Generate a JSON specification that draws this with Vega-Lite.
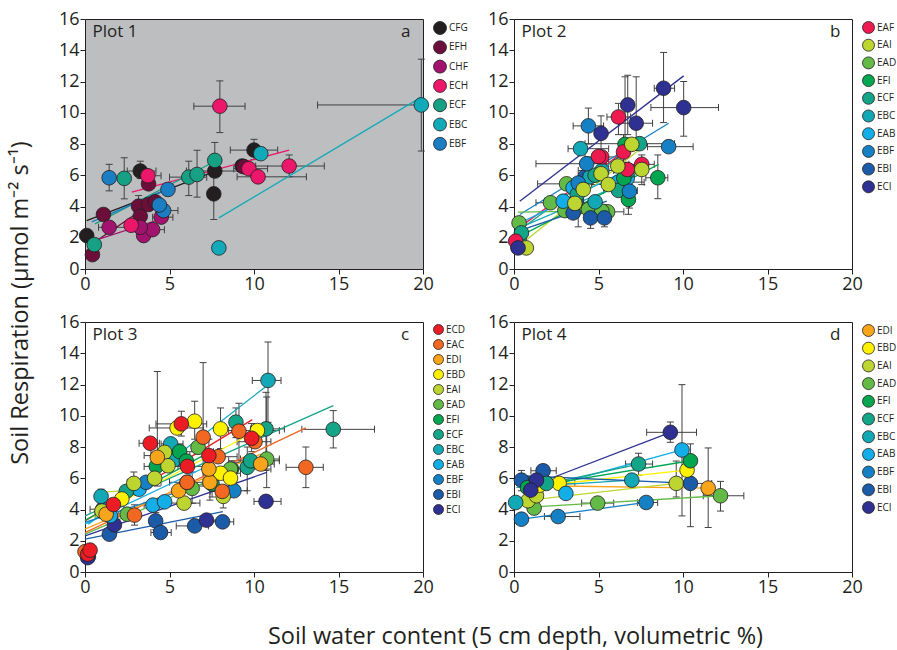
{
"$schema": "https://vega.github.io/schema/vega-lite/v6.json",
"padding": {"left": 9, "top": 9, "right": 0, "bottom": 5},
"config": {
  "font": "Open Sans",
  "view": {"stroke": "#231f20", "strokeWidth": 1},
  "axis": {"grid": false, "domain": false, "tickColor": "#231f20", "tickSize": 5, "labelFontSize": 18, "labelColor": "#231f20", "labelFont": "Open Sans", "labelPadding": 1, "labelFlush": false, "labelOverlap": false},
  "legend": {"orient": "right", "offset": 8, "symbolType": "circle", "symbolStrokeColor": "#231f20", "symbolStrokeWidth": 0.8, "symbolOpacity": 1, "labelFontSize": 10, "labelColor": "#231f20", "labelFont": "Open Sans", "labelOffset": 2, "padding": 2},
  "tick": {"thickness": 1}
},
"title": {"text": "Soil water content (5 cm depth, volumetric %)", "orient": "bottom", "anchor": "middle", "fontSize": 23.5, "fontWeight": "normal", "color": "#231f20", "font": "Open Sans", "offset": 28, "dx": 61},
"resolve": {"scale": {"color": "independent", "stroke": "independent"}, "legend": {"color": "independent"}},
"vconcat": [{
  "title": {"text": "Soil Respiration (µmol m⁻² s⁻¹)", "orient": "left", "anchor": "middle", "fontSize": 23.5, "fontWeight": "normal", "color": "#231f20", "font": "Open Sans", "offset": 25},
  "columns": 2,
  "spacing": {"row": 18, "column": 14},
  "resolve": {"scale": {"color": "independent", "stroke": "independent"}, "legend": {"color": "independent"}},
  "concat": [
   {"width": 338, "height": 250, "view": {"fill": "#bcbec0", "stroke": "#231f20"},
    "layer": [
     {"data": {"name": "p1"}, "transform": [{"filter": "isValid(datum.xl)"}], "mark": {"type": "rule", "color": "#414042", "strokeWidth": 1},
      "encoding": {"x": {"field": "xl", "type": "quantitative", "title": null, "scale": {"domain": [0, 20], "nice": false}, "axis": {"title": null, "values": [0, 5, 10, 15, 20], "labelOverlap": false}}, "x2": {"field": "xh"}, "y": {"field": "y", "type": "quantitative", "title": null, "scale": {"domain": [0, 16], "nice": false}, "axis": {"title": null, "values": [0, 2, 4, 6, 8, 10, 12, 14, 16], "tickCount": 10, "labelOverlap": false}}}},
     {"data": {"name": "p1"}, "transform": [{"filter": "isValid(datum.yl)"}], "mark": {"type": "rule", "color": "#414042", "strokeWidth": 1},
      "encoding": {"x": {"field": "x", "type": "quantitative", "title": null, "scale": {"domain": [0, 20], "nice": false}, "axis": {"title": null, "values": [0, 5, 10, 15, 20], "labelOverlap": false}}, "y": {"field": "yl", "type": "quantitative", "title": null, "scale": {"domain": [0, 16], "nice": false}, "axis": {"title": null, "values": [0, 2, 4, 6, 8, 10, 12, 14, 16], "tickCount": 10, "labelOverlap": false}}, "y2": {"field": "yh"}}},
     {"data": {"name": "p1"}, "transform": [{"filter": "isValid(datum.xl)"}, {"fold": ["xl", "xh"], "as": ["k", "v"]}], "mark": {"type": "tick", "orient": "vertical", "size": 7, "thickness": 1, "color": "#414042", "opacity": 1},
      "encoding": {"x": {"field": "v", "type": "quantitative", "title": null, "scale": {"domain": [0, 20], "nice": false}, "axis": {"title": null, "values": [0, 5, 10, 15, 20], "labelOverlap": false}}, "y": {"field": "y", "type": "quantitative", "title": null, "scale": {"domain": [0, 16], "nice": false}, "axis": {"title": null, "values": [0, 2, 4, 6, 8, 10, 12, 14, 16], "tickCount": 10, "labelOverlap": false}}}},
     {"data": {"name": "p1"}, "transform": [{"filter": "isValid(datum.yl)"}, {"fold": ["yl", "yh"], "as": ["k", "v"]}], "mark": {"type": "tick", "orient": "horizontal", "size": 7, "thickness": 1, "color": "#414042", "opacity": 1},
      "encoding": {"x": {"field": "x", "type": "quantitative", "title": null, "scale": {"domain": [0, 20], "nice": false}, "axis": {"title": null, "values": [0, 5, 10, 15, 20], "labelOverlap": false}}, "y": {"field": "v", "type": "quantitative", "title": null, "scale": {"domain": [0, 16], "nice": false}, "axis": {"title": null, "values": [0, 2, 4, 6, 8, 10, 12, 14, 16], "tickCount": 10, "labelOverlap": false}}}},
     {"data": {"name": "l1"}, "mark": {"type": "rule", "strokeWidth": 1.3},
      "encoding": {"x": {"field": "x1", "type": "quantitative", "title": null, "scale": {"domain": [0, 20], "nice": false}, "axis": {"title": null, "values": [0, 5, 10, 15, 20], "labelOverlap": false}}, "y": {"field": "y1", "type": "quantitative", "title": null, "scale": {"domain": [0, 16], "nice": false}, "axis": {"title": null, "values": [0, 2, 4, 6, 8, 10, 12, 14, 16], "tickCount": 10, "labelOverlap": false}}, "x2": {"field": "x2"}, "y2": {"field": "y2"},
       "stroke": {"field": "s", "type": "nominal", "legend": null, "scale": {"domain": ["EBF","EBC","ECF","ECH","CHF","EFH","CFG"], "range": ["#1b7ec2","#12aab8","#16a185","#ec176b","#a1136d","#6b0f3a","#231f20"]}}}},
     {"data": {"name": "p1"}, "mark": {"type": "circle", "size": 215, "opacity": 1, "stroke": "#231f20", "strokeWidth": 0.8},
      "encoding": {"x": {"field": "x", "type": "quantitative", "title": null, "scale": {"domain": [0, 20], "nice": false}, "axis": {"title": null, "values": [0, 5, 10, 15, 20], "labelOverlap": false}}, "y": {"field": "y", "type": "quantitative", "title": null, "scale": {"domain": [0, 16], "nice": false}, "axis": {"title": null, "values": [0, 2, 4, 6, 8, 10, 12, 14, 16], "tickCount": 10, "labelOverlap": false}},
       "color": {"field": "s", "type": "nominal", "scale": {"domain": ["CFG","EFH","CHF","ECH","ECF","EBC","EBF"], "range": ["#231f20","#6b0f3a","#a1136d","#ec176b","#16a185","#12aab8","#1b7ec2"]}, "legend": {"title": null, "symbolSize": 169, "rowPadding": 1.3}}}},
     {"data": {"values": [{"t": "Plot 1", "x": 0.45, "y": 14.85}, {"t": "a", "x": 18.7, "y": 14.85}]}, "mark": {"type": "text", "fontSize": 17, "color": "#231f20", "baseline": "alphabetic", "align": "left"},
      "encoding": {"x": {"field": "x", "type": "quantitative", "title": null, "scale": {"domain": [0, 20], "nice": false}}, "y": {"field": "y", "type": "quantitative", "title": null, "scale": {"domain": [0, 16], "nice": false}}, "text": {"field": "t"}}}
    ]},
   {"width": 338, "height": 250,
    "layer": [
     {"data": {"name": "p2"}, "transform": [{"filter": "isValid(datum.xl)"}], "mark": {"type": "rule", "color": "#414042", "strokeWidth": 1},
      "encoding": {"x": {"field": "xl", "type": "quantitative", "title": null, "scale": {"domain": [0, 20], "nice": false}, "axis": {"title": null, "values": [0, 5, 10, 15, 20], "labelOverlap": false}}, "x2": {"field": "xh"}, "y": {"field": "y", "type": "quantitative", "title": null, "scale": {"domain": [0, 16], "nice": false}, "axis": {"title": null, "values": [0, 2, 4, 6, 8, 10, 12, 14, 16], "tickCount": 10, "labelOverlap": false}}}},
     {"data": {"name": "p2"}, "transform": [{"filter": "isValid(datum.yl)"}], "mark": {"type": "rule", "color": "#414042", "strokeWidth": 1},
      "encoding": {"x": {"field": "x", "type": "quantitative", "title": null, "scale": {"domain": [0, 20], "nice": false}, "axis": {"title": null, "values": [0, 5, 10, 15, 20], "labelOverlap": false}}, "y": {"field": "yl", "type": "quantitative", "title": null, "scale": {"domain": [0, 16], "nice": false}, "axis": {"title": null, "values": [0, 2, 4, 6, 8, 10, 12, 14, 16], "tickCount": 10, "labelOverlap": false}}, "y2": {"field": "yh"}}},
     {"data": {"name": "p2"}, "transform": [{"filter": "isValid(datum.xl)"}, {"fold": ["xl", "xh"], "as": ["k", "v"]}], "mark": {"type": "tick", "orient": "vertical", "size": 7, "thickness": 1, "color": "#414042", "opacity": 1},
      "encoding": {"x": {"field": "v", "type": "quantitative", "title": null, "scale": {"domain": [0, 20], "nice": false}, "axis": {"title": null, "values": [0, 5, 10, 15, 20], "labelOverlap": false}}, "y": {"field": "y", "type": "quantitative", "title": null, "scale": {"domain": [0, 16], "nice": false}, "axis": {"title": null, "values": [0, 2, 4, 6, 8, 10, 12, 14, 16], "tickCount": 10, "labelOverlap": false}}}},
     {"data": {"name": "p2"}, "transform": [{"filter": "isValid(datum.yl)"}, {"fold": ["yl", "yh"], "as": ["k", "v"]}], "mark": {"type": "tick", "orient": "horizontal", "size": 7, "thickness": 1, "color": "#414042", "opacity": 1},
      "encoding": {"x": {"field": "x", "type": "quantitative", "title": null, "scale": {"domain": [0, 20], "nice": false}, "axis": {"title": null, "values": [0, 5, 10, 15, 20], "labelOverlap": false}}, "y": {"field": "v", "type": "quantitative", "title": null, "scale": {"domain": [0, 16], "nice": false}, "axis": {"title": null, "values": [0, 2, 4, 6, 8, 10, 12, 14, 16], "tickCount": 10, "labelOverlap": false}}}},
     {"data": {"name": "l2"}, "mark": {"type": "rule", "strokeWidth": 1.3},
      "encoding": {"x": {"field": "x1", "type": "quantitative", "title": null, "scale": {"domain": [0, 20], "nice": false}, "axis": {"title": null, "values": [0, 5, 10, 15, 20], "labelOverlap": false}}, "y": {"field": "y1", "type": "quantitative", "title": null, "scale": {"domain": [0, 16], "nice": false}, "axis": {"title": null, "values": [0, 2, 4, 6, 8, 10, 12, 14, 16], "tickCount": 10, "labelOverlap": false}}, "x2": {"field": "x2"}, "y2": {"field": "y2"},
       "stroke": {"field": "s", "type": "nominal", "legend": null, "scale": {"domain": ["ECI","EBI","EBF","EAB","EBC","ECF","EFI","EAD","EAI","EAF"], "range": ["#2e3192","#1b5ba8","#1580c4","#13aee8","#13a8b6","#14a487","#03a650","#63ba47","#bdd531","#ed1a4f"]}}}},
     {"data": {"name": "p2"}, "mark": {"type": "circle", "size": 215, "opacity": 1, "stroke": "#231f20", "strokeWidth": 0.8},
      "encoding": {"x": {"field": "x", "type": "quantitative", "title": null, "scale": {"domain": [0, 20], "nice": false}, "axis": {"title": null, "values": [0, 5, 10, 15, 20], "labelOverlap": false}}, "y": {"field": "y", "type": "quantitative", "title": null, "scale": {"domain": [0, 16], "nice": false}, "axis": {"title": null, "values": [0, 2, 4, 6, 8, 10, 12, 14, 16], "tickCount": 10, "labelOverlap": false}},
       "color": {"field": "s", "type": "nominal", "scale": {"domain": ["EAF","EAI","EAD","EFI","ECF","EBC","EAB","EBF","EBI","ECI"], "range": ["#ed1a4f","#bdd531","#63ba47","#03a650","#14a487","#13a8b6","#13aee8","#1580c4","#1b5ba8","#2e3192"]}, "legend": {"title": null, "symbolSize": 144, "rowPadding": 0.7}}}},
     {"data": {"values": [{"t": "Plot 2", "x": 0.45, "y": 14.85}, {"t": "b", "x": 18.7, "y": 14.85}]}, "mark": {"type": "text", "fontSize": 17, "color": "#231f20", "baseline": "alphabetic", "align": "left"},
      "encoding": {"x": {"field": "x", "type": "quantitative", "title": null, "scale": {"domain": [0, 20], "nice": false}}, "y": {"field": "y", "type": "quantitative", "title": null, "scale": {"domain": [0, 16], "nice": false}}, "text": {"field": "t"}}}
    ]},
   {"width": 338, "height": 250,
    "layer": [
     {"data": {"name": "p3"}, "transform": [{"filter": "isValid(datum.xl)"}], "mark": {"type": "rule", "color": "#414042", "strokeWidth": 1},
      "encoding": {"x": {"field": "xl", "type": "quantitative", "title": null, "scale": {"domain": [0, 20], "nice": false}, "axis": {"title": null, "values": [0, 5, 10, 15, 20], "labelOverlap": false}}, "x2": {"field": "xh"}, "y": {"field": "y", "type": "quantitative", "title": null, "scale": {"domain": [0, 16], "nice": false}, "axis": {"title": null, "values": [0, 2, 4, 6, 8, 10, 12, 14, 16], "tickCount": 10, "labelOverlap": false}}}},
     {"data": {"name": "p3"}, "transform": [{"filter": "isValid(datum.yl)"}], "mark": {"type": "rule", "color": "#414042", "strokeWidth": 1},
      "encoding": {"x": {"field": "x", "type": "quantitative", "title": null, "scale": {"domain": [0, 20], "nice": false}, "axis": {"title": null, "values": [0, 5, 10, 15, 20], "labelOverlap": false}}, "y": {"field": "yl", "type": "quantitative", "title": null, "scale": {"domain": [0, 16], "nice": false}, "axis": {"title": null, "values": [0, 2, 4, 6, 8, 10, 12, 14, 16], "tickCount": 10, "labelOverlap": false}}, "y2": {"field": "yh"}}},
     {"data": {"name": "p3"}, "transform": [{"filter": "isValid(datum.xl)"}, {"fold": ["xl", "xh"], "as": ["k", "v"]}], "mark": {"type": "tick", "orient": "vertical", "size": 7, "thickness": 1, "color": "#414042", "opacity": 1},
      "encoding": {"x": {"field": "v", "type": "quantitative", "title": null, "scale": {"domain": [0, 20], "nice": false}, "axis": {"title": null, "values": [0, 5, 10, 15, 20], "labelOverlap": false}}, "y": {"field": "y", "type": "quantitative", "title": null, "scale": {"domain": [0, 16], "nice": false}, "axis": {"title": null, "values": [0, 2, 4, 6, 8, 10, 12, 14, 16], "tickCount": 10, "labelOverlap": false}}}},
     {"data": {"name": "p3"}, "transform": [{"filter": "isValid(datum.yl)"}, {"fold": ["yl", "yh"], "as": ["k", "v"]}], "mark": {"type": "tick", "orient": "horizontal", "size": 7, "thickness": 1, "color": "#414042", "opacity": 1},
      "encoding": {"x": {"field": "x", "type": "quantitative", "title": null, "scale": {"domain": [0, 20], "nice": false}, "axis": {"title": null, "values": [0, 5, 10, 15, 20], "labelOverlap": false}}, "y": {"field": "v", "type": "quantitative", "title": null, "scale": {"domain": [0, 16], "nice": false}, "axis": {"title": null, "values": [0, 2, 4, 6, 8, 10, 12, 14, 16], "tickCount": 10, "labelOverlap": false}}}},
     {"data": {"name": "l3"}, "mark": {"type": "rule", "strokeWidth": 1.3},
      "encoding": {"x": {"field": "x1", "type": "quantitative", "title": null, "scale": {"domain": [0, 20], "nice": false}, "axis": {"title": null, "values": [0, 5, 10, 15, 20], "labelOverlap": false}}, "y": {"field": "y1", "type": "quantitative", "title": null, "scale": {"domain": [0, 16], "nice": false}, "axis": {"title": null, "values": [0, 2, 4, 6, 8, 10, 12, 14, 16], "tickCount": 10, "labelOverlap": false}}, "x2": {"field": "x2"}, "y2": {"field": "y2"},
       "stroke": {"field": "s", "type": "nominal", "legend": null, "scale": {"domain": ["ECI","EBI","EBF","EAB","EBC","ECF","EFI","EAD","EAI","EBD","EDI","EAC","ECD"], "range": ["#2e3192","#1b5ba8","#1580c4","#13aee8","#13a8b6","#14a487","#03a650","#63ba47","#bdd531","#fff200","#f9a51b","#f26722","#ec1c24"]}}}},
     {"data": {"name": "p3"}, "mark": {"type": "circle", "size": 215, "opacity": 1, "stroke": "#231f20", "strokeWidth": 0.8},
      "encoding": {"x": {"field": "x", "type": "quantitative", "title": null, "scale": {"domain": [0, 20], "nice": false}, "axis": {"title": null, "values": [0, 5, 10, 15, 20], "labelOverlap": false}}, "y": {"field": "y", "type": "quantitative", "title": null, "scale": {"domain": [0, 16], "nice": false}, "axis": {"title": null, "values": [0, 2, 4, 6, 8, 10, 12, 14, 16], "tickCount": 10, "labelOverlap": false}},
       "color": {"field": "s", "type": "nominal", "scale": {"domain": ["ECD","EAC","EDI","EBD","EAI","EAD","EFI","ECF","EBC","EAB","EBF","EBI","ECI"], "range": ["#ec1c24","#f26722","#f9a51b","#fff200","#bdd531","#63ba47","#03a650","#14a487","#13a8b6","#13aee8","#1580c4","#1b5ba8","#2e3192"]}, "legend": {"title": null, "symbolSize": 100, "rowPadding": 0}}}},
     {"data": {"values": [{"t": "Plot 3", "x": 0.45, "y": 14.85}, {"t": "c", "x": 18.7, "y": 14.85}]}, "mark": {"type": "text", "fontSize": 17, "color": "#231f20", "baseline": "alphabetic", "align": "left"},
      "encoding": {"x": {"field": "x", "type": "quantitative", "title": null, "scale": {"domain": [0, 20], "nice": false}}, "y": {"field": "y", "type": "quantitative", "title": null, "scale": {"domain": [0, 16], "nice": false}}, "text": {"field": "t"}}}
    ]},
   {"width": 338, "height": 250,
    "layer": [
     {"data": {"name": "p4"}, "transform": [{"filter": "isValid(datum.xl)"}], "mark": {"type": "rule", "color": "#414042", "strokeWidth": 1},
      "encoding": {"x": {"field": "xl", "type": "quantitative", "title": null, "scale": {"domain": [0, 20], "nice": false}, "axis": {"title": null, "values": [0, 5, 10, 15, 20], "labelOverlap": false}}, "x2": {"field": "xh"}, "y": {"field": "y", "type": "quantitative", "title": null, "scale": {"domain": [0, 16], "nice": false}, "axis": {"title": null, "values": [0, 2, 4, 6, 8, 10, 12, 14, 16], "tickCount": 10, "labelOverlap": false}}}},
     {"data": {"name": "p4"}, "transform": [{"filter": "isValid(datum.yl)"}], "mark": {"type": "rule", "color": "#414042", "strokeWidth": 1},
      "encoding": {"x": {"field": "x", "type": "quantitative", "title": null, "scale": {"domain": [0, 20], "nice": false}, "axis": {"title": null, "values": [0, 5, 10, 15, 20], "labelOverlap": false}}, "y": {"field": "yl", "type": "quantitative", "title": null, "scale": {"domain": [0, 16], "nice": false}, "axis": {"title": null, "values": [0, 2, 4, 6, 8, 10, 12, 14, 16], "tickCount": 10, "labelOverlap": false}}, "y2": {"field": "yh"}}},
     {"data": {"name": "p4"}, "transform": [{"filter": "isValid(datum.xl)"}, {"fold": ["xl", "xh"], "as": ["k", "v"]}], "mark": {"type": "tick", "orient": "vertical", "size": 7, "thickness": 1, "color": "#414042", "opacity": 1},
      "encoding": {"x": {"field": "v", "type": "quantitative", "title": null, "scale": {"domain": [0, 20], "nice": false}, "axis": {"title": null, "values": [0, 5, 10, 15, 20], "labelOverlap": false}}, "y": {"field": "y", "type": "quantitative", "title": null, "scale": {"domain": [0, 16], "nice": false}, "axis": {"title": null, "values": [0, 2, 4, 6, 8, 10, 12, 14, 16], "tickCount": 10, "labelOverlap": false}}}},
     {"data": {"name": "p4"}, "transform": [{"filter": "isValid(datum.yl)"}, {"fold": ["yl", "yh"], "as": ["k", "v"]}], "mark": {"type": "tick", "orient": "horizontal", "size": 7, "thickness": 1, "color": "#414042", "opacity": 1},
      "encoding": {"x": {"field": "x", "type": "quantitative", "title": null, "scale": {"domain": [0, 20], "nice": false}, "axis": {"title": null, "values": [0, 5, 10, 15, 20], "labelOverlap": false}}, "y": {"field": "v", "type": "quantitative", "title": null, "scale": {"domain": [0, 16], "nice": false}, "axis": {"title": null, "values": [0, 2, 4, 6, 8, 10, 12, 14, 16], "tickCount": 10, "labelOverlap": false}}}},
     {"data": {"name": "l4"}, "mark": {"type": "rule", "strokeWidth": 1.3},
      "encoding": {"x": {"field": "x1", "type": "quantitative", "title": null, "scale": {"domain": [0, 20], "nice": false}, "axis": {"title": null, "values": [0, 5, 10, 15, 20], "labelOverlap": false}}, "y": {"field": "y1", "type": "quantitative", "title": null, "scale": {"domain": [0, 16], "nice": false}, "axis": {"title": null, "values": [0, 2, 4, 6, 8, 10, 12, 14, 16], "tickCount": 10, "labelOverlap": false}}, "x2": {"field": "x2"}, "y2": {"field": "y2"},
       "stroke": {"field": "s", "type": "nominal", "legend": null, "scale": {"domain": ["ECI","EBI","EBF","EAB","EBC","ECF","EFI","EAD","EAI","EBD","EDI"], "range": ["#2e3192","#1b5ba8","#1580c4","#13aee8","#13a8b6","#14a487","#03a650","#63ba47","#bdd531","#fff200","#f9a51b"]}}}},
     {"data": {"name": "p4"}, "mark": {"type": "circle", "size": 215, "opacity": 1, "stroke": "#231f20", "strokeWidth": 0.8},
      "encoding": {"x": {"field": "x", "type": "quantitative", "title": null, "scale": {"domain": [0, 20], "nice": false}, "axis": {"title": null, "values": [0, 5, 10, 15, 20], "labelOverlap": false}}, "y": {"field": "y", "type": "quantitative", "title": null, "scale": {"domain": [0, 16], "nice": false}, "axis": {"title": null, "values": [0, 2, 4, 6, 8, 10, 12, 14, 16], "tickCount": 10, "labelOverlap": false}},
       "color": {"field": "s", "type": "nominal", "scale": {"domain": ["EDI","EBD","EAI","EAD","EFI","ECF","EBC","EAB","EBF","EBI","ECI"], "range": ["#f9a51b","#fff200","#bdd531","#63ba47","#03a650","#14a487","#13a8b6","#13aee8","#1580c4","#1b5ba8","#2e3192"]}, "legend": {"title": null, "symbolSize": 144, "rowPadding": 0.7}}}},
     {"data": {"values": [{"t": "Plot 4", "x": 0.45, "y": 14.85}, {"t": "d", "x": 18.7, "y": 14.85}]}, "mark": {"type": "text", "fontSize": 17, "color": "#231f20", "baseline": "alphabetic", "align": "left"},
      "encoding": {"x": {"field": "x", "type": "quantitative", "title": null, "scale": {"domain": [0, 20], "nice": false}}, "y": {"field": "y", "type": "quantitative", "title": null, "scale": {"domain": [0, 16], "nice": false}}, "text": {"field": "t"}}}
    ]}
  ]
}],
"datasets": {
 "p1": [
  {"s":"CFG","x":0.1,"y":2.14},
  {"s":"CFG","x":3.27,"y":6.27,"xl":2.5,"xh":4.2,"yl":5.8,"yh":6.9},
  {"s":"CFG","x":7.62,"y":4.81,"yl":3.17,"yh":6.48},
  {"s":"CFG","x":10.0,"y":7.61,"xl":8.6,"xh":11.4,"yl":7.0,"yh":8.3},
  {"s":"CFG","x":9.3,"y":6.59},
  {"s":"CFG","x":7.68,"y":6.27,"xl":6.0,"xh":9.4},
  {"s":"EFH","x":0.44,"y":0.92},
  {"s":"EFH","x":1.09,"y":3.49},
  {"s":"EFH","x":3.17,"y":4.02,"yl":3.3,"yh":4.7},
  {"s":"EFH","x":3.27,"y":3.38},
  {"s":"EFH","x":3.76,"y":4.13},
  {"s":"EFH","x":4.16,"y":4.3},
  {"s":"EFH","x":3.76,"y":5.45},
  {"s":"EFH","x":9.4,"y":6.55},
  {"s":"CHF","x":1.43,"y":2.67,"xl":0.8,"xh":3.3},
  {"s":"CHF","x":3.47,"y":2.14},
  {"s":"CHF","x":4.0,"y":2.52,"xl":3.3,"xh":4.7},
  {"s":"CHF","x":4.51,"y":3.32,"xl":4.0,"xh":5.2},
  {"s":"CHF","x":3.27,"y":2.67},
  {"s":"ECH","x":7.98,"y":10.42,"xl":6.44,"xh":9.47,"yl":8.73,"yh":12.04},
  {"s":"ECH","x":3.72,"y":5.97,"xl":3.2,"xh":4.5},
  {"s":"ECH","x":2.73,"y":2.8},
  {"s":"ECH","x":9.7,"y":6.42,"xl":8.8,"xh":10.8},
  {"s":"ECH","x":10.24,"y":5.9,"xl":9.0,"xh":13.1},
  {"s":"ECH","x":12.08,"y":6.59,"xl":10.1,"xh":14.16,"yl":5.9,"yh":7.3},
  {"s":"ECF","x":0.55,"y":1.56},
  {"s":"ECF","x":2.32,"y":5.8,"yl":4.49,"yh":7.12},
  {"s":"ECF","x":6.14,"y":5.88,"xl":5.0,"xh":7.2,"yl":4.7,"yh":6.9},
  {"s":"ECF","x":6.63,"y":6.05,"yl":4.6,"yh":7.6},
  {"s":"ECF","x":7.68,"y":6.95,"yl":6.0,"yh":8.1},
  {"s":"EBC","x":7.92,"y":1.35,"yl":1.1,"yh":1.6},
  {"s":"EBC","x":19.9,"y":10.5,"xl":13.76,"xh":20,"yl":7.55,"yh":13.43},
  {"s":"EBC","x":10.4,"y":7.38},
  {"s":"EBF","x":1.43,"y":5.84,"yl":5.0,"yh":6.7},
  {"s":"EBF","x":4.91,"y":5.09},
  {"s":"EBF","x":4.65,"y":3.74,"xl":4.2,"xh":5.5},
  {"s":"EBF","x":4.4,"y":4.1}
 ],
 "l1": [
  {"s":"CFG","x1":0.1,"y1":3.1,"x2":7.8,"y2":6.3},
  {"s":"EFH","x1":0.4,"y1":1.6,"x2":4.2,"y2":4.4},
  {"s":"CHF","x1":0.5,"y1":1.8,"x2":4.5,"y2":3.2},
  {"s":"ECH","x1":2.77,"y1":4.92,"x2":12.08,"y2":7.61},
  {"s":"ECF","x1":0.59,"y1":2.89,"x2":7.72,"y2":6.91},
  {"s":"EBC","x1":7.92,"y1":3.27,"x2":19.9,"y2":11.0},
  {"s":"EBF","x1":0.4,"y1":3.02,"x2":4.85,"y2":5.09}
 ],
 "p2": [
  {"s":"EAD","x":3.11,"y":5.45,"xl":1.4,"xh":4.6},
  {"s":"EAD","x":2.16,"y":4.24,"xl":1.3,"xh":3.0},
  {"s":"EAD","x":3.01,"y":3.74},
  {"s":"EAD","x":3.8,"y":3.96,"yl":2.7,"yh":5.0},
  {"s":"EAD","x":4.4,"y":3.81},
  {"s":"EAD","x":5.54,"y":3.66,"xl":4.6,"xh":6.5},
  {"s":"EAD","x":0.3,"y":2.95},
  {"s":"EAD","x":5.2,"y":3.7},
  {"s":"EBI","x":4.53,"y":3.27,"yl":2.6,"yh":3.9},
  {"s":"EBI","x":5.35,"y":3.27,"yl":2.7,"yh":4.1},
  {"s":"EBI","x":3.5,"y":3.59},
  {"s":"EBI","x":0.24,"y":1.4},
  {"s":"EBI","x":4.2,"y":5.9},
  {"s":"EBI","x":3.7,"y":4.4},
  {"s":"EAB","x":2.91,"y":4.34,"xl":1.8,"xh":4.0},
  {"s":"EAB","x":6.18,"y":5.56,"xl":5.2,"xh":7.7},
  {"s":"EAB","x":6.7,"y":5.8},
  {"s":"EAB","x":3.5,"y":5.2},
  {"s":"EBC","x":3.94,"y":7.7,"xl":3.2,"xh":5.6},
  {"s":"EBC","x":0.3,"y":1.9},
  {"s":"EBC","x":4.5,"y":5.9},
  {"s":"EBC","x":5.2,"y":6.3,"xl":3.8,"xh":6.8},
  {"s":"EBC","x":4.8,"y":4.3},
  {"s":"ECF","x":6.18,"y":5.03,"xl":5.3,"xh":7.3},
  {"s":"ECF","x":7.43,"y":8.02,"xl":4.2,"xh":9.5},
  {"s":"ECF","x":0.44,"y":2.31},
  {"s":"ECF","x":3.74,"y":4.77},
  {"s":"ECF","x":4.8,"y":6.0},
  {"s":"ECF","x":6.8,"y":6.3,"xl":5.9,"xh":7.6},
  {"s":"EFI","x":8.51,"y":5.84,"xl":7.8,"xh":9.1,"yl":4.5,"yh":7.3},
  {"s":"EFI","x":6.77,"y":4.45,"yl":3.5,"yh":5.4},
  {"s":"EFI","x":6.57,"y":7.98,"yl":6.8,"yh":12.3},
  {"s":"EFI","x":6.5,"y":5.8},
  {"s":"EBF","x":4.4,"y":9.16,"xl":3.5,"xh":5.3,"yl":8.0,"yh":10.3},
  {"s":"EBF","x":9.15,"y":7.83,"xl":7.9,"xh":10.6,"yl":7.5,"yh":8.2},
  {"s":"EBF","x":4.3,"y":6.74,"xl":1.3,"xh":5.6},
  {"s":"EBF","x":6.83,"y":4.98,"yl":3.9,"yh":5.7},
  {"s":"EBF","x":3.8,"y":5.5},
  {"s":"EAF","x":6.18,"y":9.73,"xl":5.5,"xh":6.9,"yl":8.6,"yh":10.6},
  {"s":"EAF","x":5.19,"y":7.17,"xl":4.2,"xh":6.1},
  {"s":"EAF","x":6.48,"y":7.49,"yl":6.2,"yh":8.6},
  {"s":"EAF","x":7.56,"y":6.7,"xl":6.8,"xh":8.3},
  {"s":"EAF","x":6.71,"y":6.37},
  {"s":"EAF","x":0.1,"y":1.78},
  {"s":"EAF","x":5.0,"y":7.2},
  {"s":"EAI","x":6.97,"y":7.98,"xl":6.3,"xh":7.6},
  {"s":"EAI","x":7.56,"y":6.37,"yl":5.4,"yh":7.3},
  {"s":"EAI","x":6.14,"y":6.59},
  {"s":"EAI","x":5.15,"y":6.1},
  {"s":"EAI","x":5.58,"y":5.41,"xl":4.6,"xh":6.5},
  {"s":"EAI","x":4.1,"y":5.09},
  {"s":"EAI","x":0.73,"y":1.35},
  {"s":"EAI","x":3.6,"y":4.2},
  {"s":"ECI","x":8.85,"y":11.57,"xl":8.3,"xh":9.5,"yl":9.37,"yh":13.86},
  {"s":"ECI","x":10.04,"y":10.33,"xl":8.1,"xh":12.1,"yl":8.5,"yh":12.0},
  {"s":"ECI","x":6.73,"y":10.5,"yl":8.6,"yh":12.4},
  {"s":"ECI","x":7.23,"y":9.33,"xl":6.2,"xh":8.2,"yl":7.6,"yh":12.3},
  {"s":"ECI","x":5.15,"y":8.68,"yl":7.6,"yh":9.8},
  {"s":"ECI","x":0.24,"y":1.35}
 ],
 "l2": [
  {"s":"ECI","x1":0.34,"y1":4.34,"x2":10.04,"y2":12.36},
  {"s":"EBF","x1":0.34,"y1":3.49,"x2":9.15,"y2":9.33},
  {"s":"EAF","x1":0.14,"y1":2.52,"x2":7.56,"y2":8.34},
  {"s":"EAI","x1":0.63,"y1":1.78,"x2":7.56,"y2":7.76},
  {"s":"EAD","x1":0.24,"y1":3.64,"x2":4.1,"y2":3.7},
  {"s":"EFI","x1":0.53,"y1":2.2,"x2":8.56,"y2":6.7},
  {"s":"ECF","x1":0.24,"y1":2.42,"x2":7.47,"y2":8.19},
  {"s":"EBC","x1":0.24,"y1":2.6,"x2":5.88,"y2":5.2},
  {"s":"EBI","x1":0.24,"y1":2.42,"x2":5.49,"y2":4.34},
  {"s":"EAB","x1":0.3,"y1":2.9,"x2":7.0,"y2":6.5}
 ],
 "p3": [
  {"s":"EBI","x":4.18,"y":3.27,"yl":2.7,"yh":3.8},
  {"s":"EBI","x":4.47,"y":2.53,"xl":3.9,"xh":5.1},
  {"s":"EBI","x":6.49,"y":2.95,"xl":5.4,"xh":7.3},
  {"s":"EBI","x":8.14,"y":3.21,"xl":7.5,"xh":8.8},
  {"s":"EBI","x":1.44,"y":2.42},
  {"s":"EBI","x":0.2,"y":1.0},
  {"s":"ECI","x":10.71,"y":4.52,"xl":10.0,"xh":11.6},
  {"s":"ECI","x":7.19,"y":3.32,"xl":6.4,"xh":8.0},
  {"s":"ECI","x":1.74,"y":3.02},
  {"s":"ECI","x":0.16,"y":0.92},
  {"s":"EAB","x":4.02,"y":4.28,"xl":3.5,"xh":4.7},
  {"s":"EAB","x":4.71,"y":4.49},
  {"s":"EAB","x":3.2,"y":5.3},
  {"s":"EAB","x":1.5,"y":3.6},
  {"s":"EBF","x":8.81,"y":5.2,"xl":8.2,"xh":9.6},
  {"s":"EBF","x":5.5,"y":7.45,"xl":3.5,"xh":6.2},
  {"s":"EBF","x":3.62,"y":5.74,"xl":2.5,"xh":4.5},
  {"s":"EBF","x":1.05,"y":4.02,"xl":0.3,"xh":1.6},
  {"s":"EBC","x":10.83,"y":12.26,"xl":9.9,"xh":11.6,"yl":9.58,"yh":14.72},
  {"s":"EBC","x":5.07,"y":8.2,"xl":4.5,"xh":5.8},
  {"s":"EBC","x":0.95,"y":4.84,"yl":4.4,"yh":5.3},
  {"s":"EBC","x":5.3,"y":7.2},
  {"s":"ECF","x":14.69,"y":9.13,"xl":12.83,"xh":17.13,"yl":7.94,"yh":10.33},
  {"s":"ECF","x":8.93,"y":9.59,"yl":8.6,"yh":10.5},
  {"s":"ECF","x":10.71,"y":9.16,"xl":9.8,"xh":11.8,"yl":6.5,"yh":11.5},
  {"s":"ECF","x":9.6,"y":6.7,"yl":5.2,"yh":8.0},
  {"s":"ECF","x":9.8,"y":7.12,"xl":8.5,"xh":11.5},
  {"s":"ECF","x":8.67,"y":6.59},
  {"s":"ECF","x":2.44,"y":5.16},
  {"s":"EFI","x":5.6,"y":7.7,"xl":4.5,"xh":7.6},
  {"s":"EFI","x":4.22,"y":6.76,"xl":3.5,"xh":5.0},
  {"s":"EFI","x":7.52,"y":5.63,"yl":4.8,"yh":6.6},
  {"s":"EFI","x":6.0,"y":7.1},
  {"s":"EAD","x":10.75,"y":7.23,"xl":9.2,"xh":11.5,"yl":5.4,"yh":11.2},
  {"s":"EAD","x":6.69,"y":7.98},
  {"s":"EAD","x":8.61,"y":6.59,"xl":7.3,"xh":11.0},
  {"s":"EAD","x":6.34,"y":5.35,"yl":4.4,"yh":6.4},
  {"s":"EAD","x":2.5,"y":3.7},
  {"s":"EAI","x":4.71,"y":7.66,"xl":3.9,"xh":5.5},
  {"s":"EAI","x":4.91,"y":6.8,"xl":4.0,"xh":6.0},
  {"s":"EAI","x":4.12,"y":6.0},
  {"s":"EAI","x":2.89,"y":5.67,"yl":4.9,"yh":6.4},
  {"s":"EAI","x":5.86,"y":4.41,"xl":5.0,"xh":6.8},
  {"s":"EAI","x":8.18,"y":4.84,"yl":4.1,"yh":5.5},
  {"s":"EAI","x":1.0,"y":3.9},
  {"s":"EBD","x":6.49,"y":9.65,"yl":8.5,"yh":10.93},
  {"s":"EBD","x":8.02,"y":9.16,"yl":7.9,"yh":10.5},
  {"s":"EBD","x":10.2,"y":9.05,"xl":8.5,"xh":11.5},
  {"s":"EBD","x":5.45,"y":9.22,"xl":3.8,"xh":7.0},
  {"s":"EBD","x":8.02,"y":6.32,"xl":7.0,"xh":9.2},
  {"s":"EBD","x":8.61,"y":6.01,"yl":5.0,"yh":7.0},
  {"s":"EBD","x":2.18,"y":4.67},
  {"s":"EDI","x":4.28,"y":7.34,"yl":5.5,"yh":12.83},
  {"s":"EDI","x":10.4,"y":6.91,"xl":9.8,"xh":11.2},
  {"s":"EDI","x":5.54,"y":5.2},
  {"s":"EDI","x":7.39,"y":5.74,"yl":4.6,"yh":6.6},
  {"s":"EDI","x":6.04,"y":5.74,"xl":5.0,"xh":7.2},
  {"s":"EDI","x":7.33,"y":6.59},
  {"s":"EDI","x":1.25,"y":3.7,"xl":0.6,"xh":2.0},
  {"s":"EAC","x":13.07,"y":6.7,"xl":11.9,"xh":14.1,"yl":5.4,"yh":8.0},
  {"s":"EAC","x":9.11,"y":9.01,"yl":7.0,"yh":10.8},
  {"s":"EAC","x":10.06,"y":8.34,"xl":9.0,"xh":11.0},
  {"s":"EAC","x":6.99,"y":8.63,"yl":5.5,"yh":13.4},
  {"s":"EAC","x":7.88,"y":7.38,"xl":7.0,"xh":9.0},
  {"s":"EAC","x":2.93,"y":3.64,"yl":3.0,"yh":4.3},
  {"s":"EAC","x":8.12,"y":5.16,"xl":7.4,"xh":8.8},
  {"s":"EAC","x":0.0,"y":1.3},
  {"s":"EAC","x":6.04,"y":5.74},
  {"s":"ECD","x":5.7,"y":9.48,"xl":4.2,"xh":7.2,"yl":8.7,"yh":10.29},
  {"s":"ECD","x":3.86,"y":8.24,"xl":3.2,"xh":4.4},
  {"s":"ECD","x":9.86,"y":8.56,"yl":7.7,"yh":9.5},
  {"s":"ECD","x":7.33,"y":7.45,"yl":6.5,"yh":8.5},
  {"s":"ECD","x":6.06,"y":6.76,"xl":5.5,"xh":7.0},
  {"s":"ECD","x":1.68,"y":4.32,"xl":1.0,"xh":2.3},
  {"s":"ECD","x":0.16,"y":1.14},
  {"s":"ECD","x":0.3,"y":1.4}
 ],
 "l3": [
  {"s":"ECD","x1":0,"y1":3.27,"x2":9.9,"y2":9.75},
  {"s":"EBC","x1":0.2,"y1":3.06,"x2":11.29,"y2":12.36},
  {"s":"ECF","x1":0,"y1":3.59,"x2":14.69,"y2":10.65},
  {"s":"EAC","x1":0,"y1":2.52,"x2":13.07,"y2":9.22},
  {"s":"EBD","x1":0.4,"y1":3.49,"x2":10.4,"y2":9.16},
  {"s":"EAI","x1":0.89,"y1":5.09,"x2":3.66,"y2":5.3},
  {"s":"EDI","x1":0,"y1":2.74,"x2":10.4,"y2":7.55},
  {"s":"ECI","x1":0,"y1":2.31,"x2":10.75,"y2":6.37},
  {"s":"EBI","x1":0,"y1":2.1,"x2":8.16,"y2":3.87},
  {"s":"EAB","x1":0,"y1":3.06,"x2":7.52,"y2":6.91},
  {"s":"EFI","x1":0,"y1":3.3,"x2":6.9,"y2":7.4},
  {"s":"EBF","x1":0,"y1":3.17,"x2":8.71,"y2":6.27},
  {"s":"EAD","x1":0,"y1":2.42,"x2":10.79,"y2":7.44}
 ],
 "p4": [
  {"s":"EBF","x":7.82,"y":4.45,"xl":7.3,"xh":8.5},
  {"s":"EBF","x":2.61,"y":3.55,"xl":1.8,"xh":3.9},
  {"s":"EBF","x":0.44,"y":3.38},
  {"s":"EAD","x":12.22,"y":4.88,"xl":11.2,"xh":13.6,"yl":3.9,"yh":5.8},
  {"s":"EAD","x":4.95,"y":4.41,"xl":4.0,"xh":5.9},
  {"s":"EAD","x":1.19,"y":4.09},
  {"s":"EAI","x":9.6,"y":5.67,"yl":4.8,"yh":7.1},
  {"s":"EAI","x":0.83,"y":4.56},
  {"s":"EAI","x":1.33,"y":4.88},
  {"s":"EBC","x":6.97,"y":5.88},
  {"s":"EBC","x":0.1,"y":4.45},
  {"s":"EBC","x":0.79,"y":5.63},
  {"s":"EDI","x":11.49,"y":5.37,"yl":2.85,"yh":7.94},
  {"s":"EBI","x":10.44,"y":5.67,"xl":9.5,"xh":11.7},
  {"s":"EBI","x":1.72,"y":6.48,"xl":1.0,"xh":2.5,"yl":5.8,"yh":6.8},
  {"s":"EBI","x":0.44,"y":5.88,"yl":5.2,"yh":6.5},
  {"s":"EBD","x":10.24,"y":6.52},
  {"s":"EBD","x":2.67,"y":5.67,"xl":1.8,"xh":3.6},
  {"s":"EBD","x":1.52,"y":5.56},
  {"s":"ECF","x":7.37,"y":6.91,"xl":6.6,"xh":8.2,"yl":6.2,"yh":7.6},
  {"s":"ECF","x":1.92,"y":5.67},
  {"s":"EFI","x":10.44,"y":7.12,"yl":2.9,"yh":8.2},
  {"s":"EFI","x":0.8,"y":5.4},
  {"s":"EAB","x":9.94,"y":7.81,"yl":3.59,"yh":11.99},
  {"s":"EAB","x":3.07,"y":5.03},
  {"s":"ECI","x":9.25,"y":8.94,"xl":7.85,"xh":10.8,"yl":8.3,"yh":9.6},
  {"s":"ECI","x":1.33,"y":5.88},
  {"s":"ECI","x":0.99,"y":5.24}
 ],
 "l4": [
  {"s":"ECI","x1":1.03,"y1":5.52,"x2":9.25,"y2":8.94},
  {"s":"EAB","x1":1.13,"y1":5.2,"x2":9.94,"y2":7.81},
  {"s":"EFI","x1":0.53,"y1":5.37,"x2":10.44,"y2":7.12},
  {"s":"ECF","x1":0.53,"y1":5.3,"x2":7.37,"y2":6.91},
  {"s":"EBD","x1":1.52,"y1":5.52,"x2":10.24,"y2":6.52},
  {"s":"EBC","x1":0.14,"y1":5.41,"x2":6.97,"y2":5.88},
  {"s":"EBI","x1":0.44,"y1":6.16,"x2":10.44,"y2":5.67},
  {"s":"EDI","x1":1.52,"y1":5.52,"x2":11.49,"y2":5.37},
  {"s":"EAI","x1":0.93,"y1":4.6,"x2":9.6,"y2":5.67},
  {"s":"EAD","x1":1.19,"y1":4.17,"x2":12.22,"y2":4.88},
  {"s":"EBF","x1":0.44,"y1":3.38,"x2":7.82,"y2":4.45}
 ]
}
}
